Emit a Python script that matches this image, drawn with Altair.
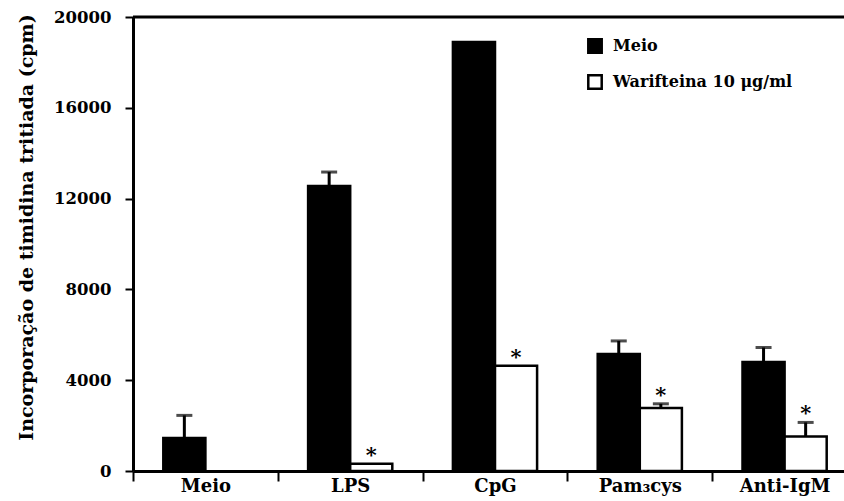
import altair as alt
import pandas as pd

# Proliferation data (cpm) per stimulus, with and without warifteine
estimulos = ["Meio", "LPS", "CpG", "Pam₃cys", "Anti-IgM"]
grupos = ["Meio", "Warifteina 10 μg/ml"]
media_meio = [1450, 12550, 18900, 5150, 4800]
erro_meio = [1000, 620, None, 580, 640]
media_warif = [None, 320, 4640, 2780, 1520]
erro_warif = [None, None, None, 180, 620]
significativo = [False, True, True, True, True]

rows = []
for i, est in enumerate(estimulos):
    for grupo, medias, erros in ((grupos[0], media_meio, erro_meio),
                                 (grupos[1], media_warif, erro_warif)):
        m = medias[i]
        if m is None:
            continue
        e = erros[i]
        rows.append({
            "estimulo": est,
            "grupo": grupo,
            "media": m,
            "erro": e,
            "topo": m + (e or 0),
            "sup": m + e if e else None,
            "asterisco": "*" if (grupo == grupos[1] and significativo[i]) else "",
        })
df = pd.DataFrame(rows)

FONT = "DejaVu Serif"

x = alt.X("estimulo:N", sort=estimulos,
          scale=alt.Scale(range=[0, 724], paddingInner=0, paddingOuter=0),
          axis=alt.Axis(title=None, labelAngle=0, tickBand="extent",
                        domainWidth=3, domainColor="black", tickSize=10,
                        tickWidth=2, tickColor="black", labelFont=FONT,
                        labelFontWeight="bold", labelFontSize=18,
                        labelColor="black", labelPadding=-4))
xoff = alt.XOffset("grupo:N", sort=grupos,
                   scale=alt.Scale(domain=grupos, paddingInner=0, paddingOuter=0.72))
yscale = alt.Scale(domain=[0, 20000], nice=False)

base = alt.Chart(df)

bars = base.mark_bar(stroke="black", strokeWidth=2.5).encode(
    x=x,
    xOffset=xoff,
    y=alt.Y("media:Q", scale=yscale,
            axis=alt.Axis(title="Incorporação de timidina tritiada (cpm)",
                          values=[0, 4000, 8000, 12000, 16000, 20000],
                          format="d", grid=False, domainWidth=3,
                          domainColor="black", tickSize=8, tickWidth=2,
                          tickColor="black", labelFont=FONT,
                          labelFontWeight="bold", labelFontSize=16.5,
                          labelColor="black", labelPadding=14,
                          titleFont=FONT, titleFontWeight="bold",
                          titleFontSize=19, titleColor="black",
                          titleX=-97, titleY=210)),
    fill=alt.Fill("grupo:N", sort=grupos,
                  scale=alt.Scale(domain=grupos, range=["black", "white"]),
                  legend=alt.Legend(title=None, orient="none", legendX=454,
                                    legendY=21, symbolType="square",
                                    symbolSize=180, symbolStrokeWidth=2.5,
                                    symbolStrokeColor="black",
                                    labelFont=FONT, labelFontWeight="bold",
                                    labelFontSize=16, labelColor="black",
                                    labelOffset=10, rowPadding=12,
                                    labelLimit=0, padding=0)),
)

err = base.transform_filter("datum.sup != null")

stems = err.mark_rule(color="black", strokeWidth=3).encode(
    x=x, xOffset=xoff, y=alt.Y("media:Q", scale=yscale), y2="sup:Q")

caps = err.mark_tick(color="black", thickness=3, size=16).encode(
    x=x, xOffset=xoff, y=alt.Y("sup:Q", scale=yscale))

stars = base.transform_filter("datum.asterisco != ''").mark_text(
    font=FONT, fontWeight="bold", fontSize=21, baseline="middle", dy=-8,
    color="black").encode(
    x=x, xOffset=xoff, y=alt.Y("topo:Q", scale=yscale), text="asterisco:N")

# Top frame line at the 20000 level
top = alt.Chart(pd.DataFrame({"v": [20000]})).mark_rule(
    color="black", strokeWidth=3).encode(y=alt.Y("v:Q", scale=yscale))

chart = alt.layer(bars, stems, caps, stars, top).properties(
    width=711, height=454,
    autosize=alt.AutoSizeParams(type="none"),
    padding={"left": 133, "top": 17, "right": 0, "bottom": 30},
    background="white",
).configure_view(stroke=None)

chart.save("out.html", embed_options={"renderer": "svg", "actions": False})
